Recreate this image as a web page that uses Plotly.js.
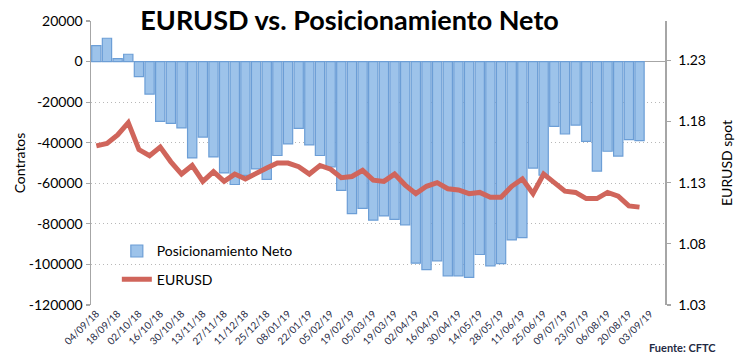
<!DOCTYPE html>
<html>
<head>
<meta charset="utf-8">
<script src="https://cdn.plot.ly/plotly-3.0.1.min.js"></script>
<style>
  html, body { margin: 0; padding: 0; background: #ffffff; }
  #chart { width: 747px; height: 359px; }
</style>
</head>
<body>
<div id="chart"></div>
<script>
// Weekly COT report dates (Tuesdays)
const weeks = [
  '2018-09-04','2018-09-11','2018-09-18','2018-09-25','2018-10-02','2018-10-09','2018-10-16','2018-10-23',
  '2018-10-30','2018-11-06','2018-11-13','2018-11-20','2018-11-27','2018-12-04','2018-12-11','2018-12-18',
  '2018-12-25','2019-01-01','2019-01-08','2019-01-15','2019-01-22','2019-01-29','2019-02-05','2019-02-12',
  '2019-02-19','2019-02-26','2019-03-05','2019-03-12','2019-03-19','2019-03-26','2019-04-02','2019-04-09',
  '2019-04-16','2019-04-23','2019-04-30','2019-05-07','2019-05-14','2019-05-21','2019-05-28','2019-06-04',
  '2019-06-11','2019-06-18','2019-06-25','2019-07-02','2019-07-09','2019-07-16','2019-07-23','2019-07-30',
  '2019-08-06','2019-08-13','2019-08-20','2019-08-27'
];

// Net positioning (contracts)
const netPositioning = [
  7900, 11500, 1500, 3600, -7400, -16000, -29500, -30500,
  -32700, -47500, -37200, -47000, -54900, -60600, -56100, -52900,
  -58100, -46300, -40600, -32900, -41100, -46300, -51900, -63500,
  -75000, -72400, -78200, -76100, -77800, -80500, -99400, -102600,
  -98200, -105600, -105600, -106400, -95100, -100700, -99600, -87900,
  -86800, -52500, -56000, -31900, -35700, -31300, -39300, -54000,
  -44200, -46600, -38500, -39000
];

// EURUSD spot
const eurusd = [
  1.160, 1.162, 1.169, 1.179, 1.157, 1.152, 1.159, 1.147,
  1.137, 1.144, 1.131, 1.139, 1.131, 1.137, 1.133, 1.138,
  1.142, 1.146, 1.146, 1.143, 1.137, 1.144, 1.141, 1.134,
  1.135, 1.140, 1.132, 1.131, 1.137, 1.128, 1.121, 1.127,
  1.130, 1.125, 1.124, 1.121, 1.122, 1.118, 1.118, 1.127,
  1.133, 1.121, 1.137, 1.130, 1.123, 1.122, 1.117, 1.117,
  1.122, 1.119, 1.111, 1.110
];

const leftTicks = [20000, 0, -20000, -40000, -60000, -80000, -100000, -120000];
const rightTicks = [1.03, 1.08, 1.13, 1.18, 1.23];

const FONT = 'Lato, "Open Sans", sans-serif';

const traces = [
  {
    type: 'bar',
    name: 'Posicionamiento Neto',
    x: weeks,
    y: netPositioning,
    yaxis: 'y',
    legendgroup: 'a',
    marker: { color: 'rgb(157,195,234)', line: { color: 'rgb(108,158,214)', width: 1.2 } },
    hoverinfo: 'x+y'
  },
  {
    type: 'scatter',
    mode: 'lines',
    name: 'EURUSD',
    x: weeks,
    y: eurusd,
    yaxis: 'y2',
    legendgroup: 'b',
    line: { color: 'rgb(208,101,91)', width: 5 },
    hoverinfo: 'x+y'
  }
];

const layout = {
  width: 747,
  height: 359,
  paper_bgcolor: '#ffffff',
  plot_bgcolor: '#ffffff',
  margin: { l: 91, r: 82, t: 21, b: 54, pad: 0 },
  font: { family: FONT, size: 14, color: '#000000' },
  bargap: 0.13,
  title: {
    text: '<b>EURUSD vs. Posicionamiento Neto</b>',
    font: { family: FONT, size: 27, color: '#000000' },
    x: 0.468, xanchor: 'center', xref: 'container',
    y: 0.97, yanchor: 'top', yref: 'container'
  },
  xaxis: {
    type: 'date',
    range: ['2018-08-31 12:00', '2019-09-12 18:00'],
    tick0: '2018-09-04',
    dtick: 14 * 86400000,
    tickformat: '%d/%m/%y',
    tickangle: -45,
    tickfont: { family: FONT, size: 10, color: '#1f2a44' },
    ticks: '',
    showgrid: false,
    showline: false,
    zeroline: false,
    automargin: false
  },
  yaxis: {
    range: [-120000, 20000],
    tickvals: leftTicks,
    ticktext: leftTicks.map(String),
    tickfont: { family: FONT, size: 14, color: '#000000' },
    showline: true, linecolor: '#a6a6a6', linewidth: 1.5,
    ticks: 'outside', ticklen: 4, tickcolor: '#a6a6a6', tickwidth: 1.2,
    showgrid: true, gridcolor: '#b8b8b8', griddash: '1px,3px', gridwidth: 1,
    zeroline: true, zerolinecolor: '#a6a6a6', zerolinewidth: 1.5,
    title: { text: 'Contratos', font: { family: FONT, size: 14, color: '#000000' }, standoff: 0 },
    automargin: false
  },
  yaxis2: {
    overlaying: 'y',
    side: 'right',
    range: [1.03, 1.2621],
    tickvals: rightTicks,
    ticktext: rightTicks.map(v => v.toFixed(2)),
    tickfont: { family: FONT, size: 14, color: '#000000' },
    ticklabelstandoff: 5,
    showline: true, linecolor: '#a6a6a6', linewidth: 1.5,
    ticks: 'outside', ticklen: 4, tickcolor: '#a6a6a6', tickwidth: 1.2,
    showgrid: false, zeroline: false,
    title: { text: 'EURUSD spot', font: { family: FONT, size: 14, color: '#000000' }, standoff: 17 },
    automargin: false
  },
  showlegend: true,
  legend: {
    x: 0.045, xanchor: 'left', xref: 'paper',
    y: 0.245, yanchor: 'top', yref: 'paper',
    bgcolor: 'rgba(0,0,0,0)',
    font: { family: FONT, size: 14, color: '#000000' },
    traceorder: 'grouped',
    tracegroupgap: 7
  },
  annotations: [
    {
      text: '<b>Fuente: CFTC</b>',
      xref: 'paper', yref: 'paper',
      x: 0.968, xanchor: 'left',
      y: -0.15, yanchor: 'middle',
      showarrow: false,
      font: { family: FONT, size: 11, color: '#1f2a44' }
    }
  ]
};

Plotly.newPlot('chart', traces, layout, { displayModeBar: false, staticPlot: true });
</script>
</body>
</html>
